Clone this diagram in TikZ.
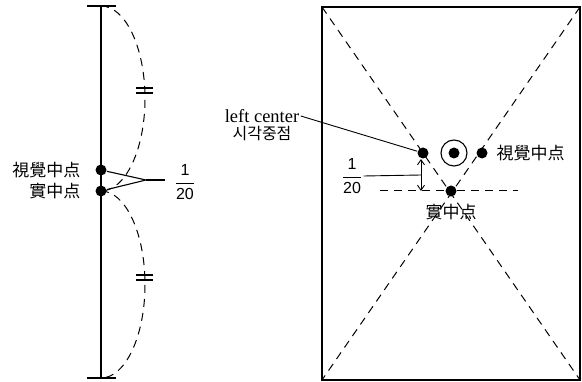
\documentclass[tikz,border=0pt]{standalone}
\usepackage{amsmath}
\usepackage{fontspec}
\setmainfont{Liberation Serif}
\setsansfont{Liberation Sans}
\newfontfamily\cjk{Noto Sans CJK JP}
\newfontfamily\kor{Noto Sans CJK KR}
\usetikzlibrary{positioning, arrows.meta}
\tikzset{
  dot/.style={circle, fill, inner sep=0pt, minimum size=11pt},
  dashline/.style={dash pattern=on 8pt off 6pt, line width=1pt},
  cjklabel/.style={font=\cjk\fontsize{17}{17}\selectfont, inner sep=1pt},
  fraclabel/.style={font=\sffamily\fontsize{16}{16}\selectfont, inner sep=1pt}
}
\newcommand{\twentieth}{$\genfrac{}{}{0.7pt}{0}{\textsf{1}}{\textsf{20}}$}

\begin{document}
\begin{tikzpicture}[x=1pt, y=-1pt, >={Straight Barb[length=5pt, width=7pt]}, line width=1.1pt]
\useasboundingbox (0,0) rectangle (582,382);
% scale bar
\coordinate (top) at (101,6);
\coordinate (bot) at (101,378);
\draw (top) -- (bot);
\draw[line width=2pt] ([xshift=-14pt]top) -- ([xshift=15pt]top);
\draw[line width=2pt] ([xshift=-14pt]bot) -- ([xshift=15pt]bot);
\node[dot] (vis) at (101,170) {};
\node[dot] (real) at (101,191) {};
\node[cjklabel, left=13pt of vis] (visname) {視覺中点};
\node[cjklabel, left=13pt of real] (realname) {實中点};
% halves
\draw[dashline] (top) arc[start angle=-90, end angle=90, x radius=44, y radius=92.5];
\draw[dashline] (real.center) arc[start angle=-90, end angle=90, x radius=44, y radius=93.5];
\draw (136,88) -- (153,88);
\draw (136,93) -- (153,93);
\draw (136,275) -- (153,275);
\draw (136,280) -- (153,280);
% 1/20 gap
\coordinate (apex) at (146,180);
\coordinate (tail) at (165,180);
\draw (vis) -- (apex) -- (real);
\draw (apex) -- (tail);
\node[fraclabel] (fracL) at (185,182) {\twentieth};
% page
\coordinate (tl) at (322,7);
\coordinate (tr) at (580,7);
\coordinate (bl) at (322,380);
\coordinate (br) at (580,380);
\draw (tl) rectangle (br);
\draw[dashline] (tl) -- (br);
\draw[dashline] (tr) -- (bl);
\node[dot] (rc) at (451,191) {};
\draw[dashline] (380,191) -- (rc) -- (518,191);
\node[dot] (lc) at (423,153) {};
\node[dot] (tc) at (454,153) {};
\node[draw, circle, inner sep=0pt, minimum size=26pt] (ring) at (tc) {};
\node[dot] (vc) at (482,153) {};
\node[cjklabel, right=7pt of vc] (vcname) {視覺中点};
\node[cjklabel, below=6pt of rc] (rcname) {實中点};
% left center
\node[font=\fontsize{18.5}{18.5}\selectfont, inner sep=1pt] (lcname) at (262,116) {left center};
\node[font=\kor\fontsize{16}{16}\selectfont, inner sep=1pt, below=1pt of lcname] (lckor) {시각중점};
\draw[line width=0.9pt] (lcname.east) -- (lc);
\draw[<->, line width=0.9pt] ([xshift=-2pt]lc.south) -- ([xshift=-2pt]lc.south |- rc.center);
\node[fraclabel] (fracR) at (352,176) {\twentieth};
\coordinate (mark) at (421,175);
\draw[line width=0.9pt] (fracR.east) -- (mark);
\end{tikzpicture}
\end{document}
